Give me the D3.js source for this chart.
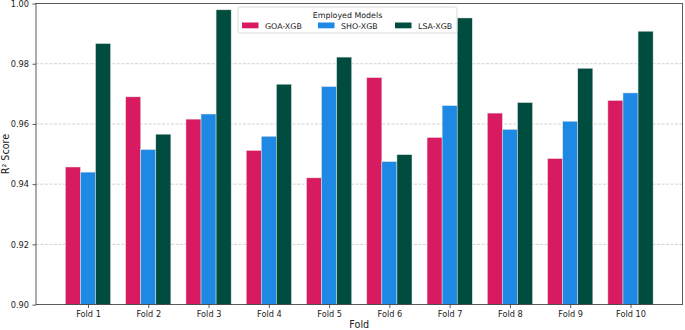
<!DOCTYPE html>
<html>
<head>
<meta charset="utf-8">
<script src="https://cdn.jsdelivr.net/npm/d3@7"></script>
<style>
  body { margin: 0; background: #fff; }
  svg { display: block; font-family: "DejaVu Sans", sans-serif; }
</style>
</head>
<body>
<svg id="chart" width="685" height="330"></svg>
<script>
const folds = ["Fold 1", "Fold 2", "Fold 3", "Fold 4", "Fold 5", "Fold 6", "Fold 7", "Fold 8", "Fold 9", "Fold 10"];
const models = ["GOA-XGB", "SHO-XGB", "LSA-XGB"];
const goaScores = [0.9457, 0.9690, 0.9616, 0.9512, 0.9421, 0.9754, 0.9555, 0.9636, 0.9485, 0.9678];
const shoScores = [0.9440, 0.9515, 0.9633, 0.9559, 0.9724, 0.9475, 0.9661, 0.9582, 0.9609, 0.9703];
const lsaScores = [0.9867, 0.9566, 0.9979, 0.9732, 0.9822, 0.9498, 0.9952, 0.9671, 0.9785, 0.9908];
const yTicks = [0.90, 0.92, 0.94, 0.96, 0.98, 1.00];
const colors = ["#D81B60", "#1E88E5", "#004D40"];

const series = [goaScores, shoScores, lsaScores];
const svg = d3.select("#chart");
const plotL = 36, plotR = 682.5, plotT = 3.5, plotB = 304.6;
const barW = 0.25;

// matplotlib style x: positions 0..9 with 5% margins
const x = d3.scaleLinear().domain([-0.8625, 9.8625]).range([plotL, plotR]);
const y = d3.scaleLinear().domain([0.90, 1.00]).range([plotB, plotT]);

// grid
svg.append("g").selectAll("line")
    .data(yTicks.slice(1, -1))
    .enter().append("line")
    .attr("x1", plotL).attr("x2", plotR)
    .attr("y1", d => y(d)).attr("y2", d => y(d))
    .attr("stroke", "#c8c8c8")
    .attr("stroke-width", 0.8)
    .attr("stroke-dasharray", "3,1.5");

// bars
series.forEach((vals, s) => {
    svg.append("g").selectAll("rect")
        .data(vals)
        .enter().append("rect")
        .attr("x", (d, i) => x(i + (s - 1) * barW - barW / 2))
        .attr("width", x(barW) - x(0))
        .attr("y", d => y(d))
        .attr("height", d => y(0.90) - y(d))
        .attr("fill", colors[s])
        .attr("stroke", "#e6e6e6")
        .attr("stroke-width", 0.5);
});

// axes
const xAxis = d3.axisBottom(x)
    .tickValues(d3.range(folds.length))
    .tickFormat(i => folds[i])
    .tickSize(3.5).tickPadding(3.5);
const gx = svg.append("g").attr("transform", `translate(0,${plotB})`).call(xAxis);
gx.select(".domain").remove();

const yAxis = d3.axisLeft(y).tickValues(yTicks).tickFormat(d3.format(".2f")).tickSize(3.5).tickPadding(3.5);
const gy = svg.append("g").attr("transform", `translate(${plotL},0)`).call(yAxis);
gy.select(".domain").remove();

svg.selectAll(".tick text").attr("font-size", 8.2).attr("fill", "#222").attr("font-family", "DejaVu Sans");
svg.selectAll(".tick line").attr("stroke", "#333").attr("stroke-width", 0.8);

// frame
svg.append("rect")
    .attr("x", plotL).attr("y", plotT)
    .attr("width", plotR - plotL).attr("height", plotB - plotT)
    .attr("fill", "none").attr("stroke", "#333").attr("stroke-width", 0.8);

// axis labels
svg.append("text")
    .attr("x", (plotL + plotR) / 2).attr("y", 328)
    .attr("text-anchor", "middle").attr("font-size", 9.6).attr("fill", "#222")
    .text("Fold");
svg.append("text")
    .attr("transform", `translate(8.5,${(plotT + plotB) / 2}) rotate(-90)`)
    .attr("text-anchor", "middle").attr("font-size", 9.6).attr("fill", "#222")
    .text("R² Score");

// legend
const lg = svg.append("g").attr("transform", "translate(238,7)");
lg.append("rect")
    .attr("width", 219).attr("height", 26).attr("rx", 2)
    .attr("fill", "#fff").attr("fill-opacity", 0.8)
    .attr("stroke", "#d0d0d0").attr("stroke-width", 0.8);
lg.append("text")
    .attr("x", 109.5).attr("y", 10.5)
    .attr("text-anchor", "middle").attr("font-size", 7.9).attr("fill", "#222")
    .text("Employed Models");
const entryX = [4, 80, 157];
models.forEach((m, i) => {
    lg.append("rect")
        .attr("x", entryX[i]).attr("y", 15.5)
        .attr("width", 16.5).attr("height", 5.8)
        .attr("fill", colors[i]);
    lg.append("text")
        .attr("x", entryX[i] + 23).attr("y", 21.5)
        .attr("font-size", 7.9).attr("fill", "#222")
        .text(m);
});
</script>
</body>
</html>
